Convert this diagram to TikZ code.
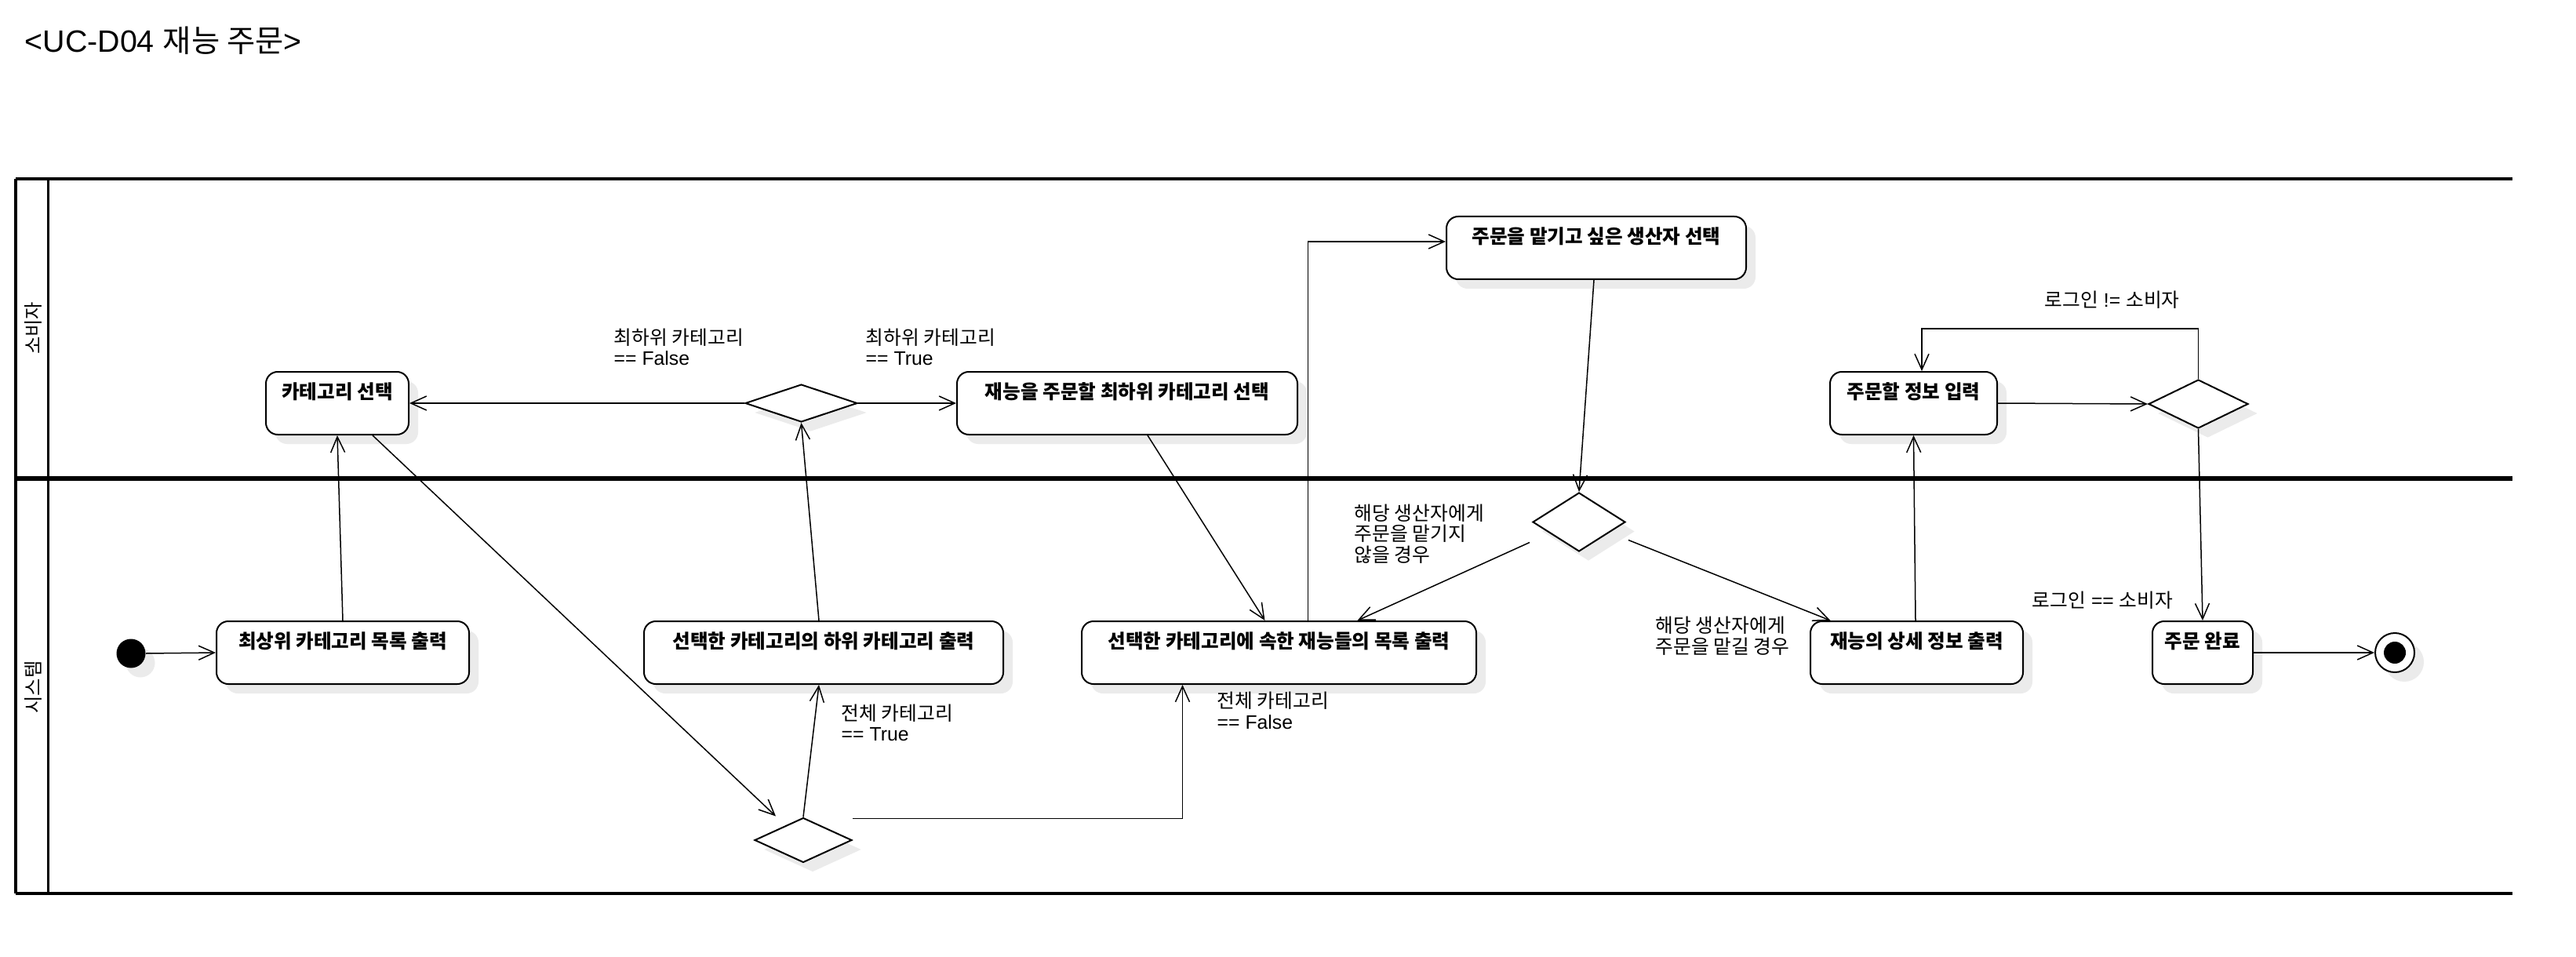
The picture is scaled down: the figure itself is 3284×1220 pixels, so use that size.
\documentclass[tikz,border=0pt]{standalone}
\usepackage{fontspec}
\setmainfont{Liberation Sans}
\newfontfamily\kr{Noto Sans CJK KR}
\usetikzlibrary{arrows.meta,shapes.geometric,shadows,calc}
\newcommand\K[1]{{\kr #1}}
\begin{document}
\begin{tikzpicture}[x=0.1mm,y=-0.1mm,
  shad/.style={drop shadow={shadow xshift=1.2mm,shadow yshift=-1.2mm,fill=black!8,opacity=1}},
  act/.style={draw,line width=0.2mm,rounded corners=1.5mm,fill=white,minimum height=8mm,inner sep=0,shad},
  acttxt/.style={font=\kr\bfseries\fontsize{7.0pt}{8.2pt}\selectfont,inner sep=0},
  dec/.style={diamond,draw,line width=0.2mm,fill=white,inner sep=0,shad},
  conn/.style={line width=0.15mm,-{Straight Barb[length=2mm,width=1.8mm]}},
  lbl/.style={font=\fontsize{7.05pt}{7.6pt}\selectfont,align=left,inner sep=0,anchor=west},
  lane/.style={line width=0.4mm},
  lanetxt/.style={font=\kr\fontsize{6.9pt}{8pt}\selectfont,rotate=90,inner sep=0}
]
\fill[white] (0,0) rectangle (3284,1220);
\useasboundingbox (0,0) rectangle (3284,1220);

% title
\node[anchor=base west,inner sep=0,font=\fontsize{11.2pt}{13pt}\selectfont] (title) at (31,67) {<UC-D04 \K{재능 주문}>};

% swimlanes
\draw[lane] (20,228) -- (3203,228);
\draw[line width=0.6mm] (20,610) -- (3203,610);
\draw[lane] (20,1138.5) -- (3203,1138.5);
\draw[lane] (20,228) -- (20,1138.5);
\draw[line width=0.33mm] (61.7,228) -- (61.7,1138.5);
\node[lanetxt] (laneA) at (42,418.5) {소비자};
\node[lanetxt] (laneB) at (42,876) {시스템};

% activities
\node[act,minimum width=18.2mm] (catsel) at (430,514) {};
\node[acttxt] (catselT) at ($(catsel.north)+(0,26)$) {카테고리 선택};
\node[act,minimum width=32.2mm] (top) at (437,832) {};
\node[acttxt] (topT) at ($(top.north)+(0,26)$) {최상위 카테고리 목록 출력};
\node[act,minimum width=45.8mm] (sub) at (1050,832) {};
\node[acttxt] (subT) at ($(sub.north)+(0,26)$) {선택한 카테고리의 하위 카테고리 출력};
\node[act,minimum width=43.4mm] (leaf) at (1437,514) {};
\node[acttxt] (leafT) at ($(leaf.north)+(0,26)$) {재능을 주문할 최하위 카테고리 선택};
\node[act,minimum width=50.3mm] (list) at (1630.5,832) {};
\node[acttxt] (listT) at ($(list.north)+(0,26)$) {선택한 카테고리에 속한 재능들의 목록 출력};
\node[act,minimum width=38.2mm] (sel) at (2035,316) {};
\node[acttxt] (selT) at ($(sel.north)+(0,26)$) {주문을 맡기고 싶은 생산자 선택};
\node[act,minimum width=21.3mm] (input) at (2439.5,514) {};
\node[acttxt] (inputT) at ($(input.north)+(0,26)$) {주문할 정보 입력};
\node[act,minimum width=27.1mm] (detail) at (2443.5,832) {};
\node[acttxt] (detailT) at ($(detail.north)+(0,26)$) {재능의 상세 정보 출력};
\node[act,minimum width=12.8mm] (done) at (2808,832) {};
\node[acttxt] (doneT) at ($(done.north)+(0,26)$) {주문 완료};

% decisions
\node[dec,minimum width=14.3mm,minimum height=4.8mm] (d1) at (1021.5,514) {};
\node[dec,minimum width=12.4mm,minimum height=5.7mm] (d2) at (1024,1071) {};
\node[dec,minimum width=11.8mm,minimum height=7.5mm] (d3) at (2013,665.5) {};
\node[dec,minimum width=12.7mm,minimum height=6.2mm] (d4) at (2802.5,515) {};

% initial / final
\node[circle,fill=black,minimum size=3.7mm,inner sep=0,shad] (init) at (167,833) {};
\node[circle,draw,line width=0.2mm,fill=white,minimum size=5mm,inner sep=0,shad] (fin) at (3053,832) {};
\node[circle,fill=black,minimum size=2.8mm,inner sep=0] (finIn) at (fin) {};

% connectors
\draw[conn] (init.east) -- (top.west);
\draw[conn] (top.north) -- (catsel.south);
\draw[conn] ($(catsel.south)+(45,0)$) -- ($(d2.north)+(-35,-1)$);
\draw[conn] (d2.north) -- ($(sub.south)+(-6,0)$);
\draw[conn] ($(d2.east |- d2.north)+(0,2)$) -| ($(list.south)+(-123,0)$);
\draw[conn] ($(sub.north)+(-6,0)$) -- (d1.south);
\draw[conn] (d1.west) -- (catsel.east);
\draw[conn] (d1.east) -- (leaf.west);
\draw[conn] ($(leaf.south)+(26,0)$) -- ($(list.north)+(-18,0)$);
\draw[conn] ($(list.north)+(37,0)$) |- ($(sel.west)+(0,-8)$);
\draw[conn] ($(sel.south)+(-3,0)$) -- (d3.north);
\draw[conn] ($(d3.west)+(-3,26)$) -- ($(list.north)+(100,0)$);
\draw[conn] ($(d3.east)+(3,23)$) -- ($(detail.north)+(-110,0)$);
\draw[conn] ($(detail.north)+(-1.5,0)$) -- (input.south);
\draw[conn] (input.east) -- (d4.west);
\draw[conn] (d4.north) -- ++(0,-64) -| ($(input.north)+(10.5,0)$);
\draw[conn] (d4.south) -- (done.north);
\draw[conn] (done.east) -- (fin.west);

% guard labels
\node[lbl] (g1) at (782,442.5) {\K{최하위 카테고리}\\== False};
\node[lbl] (g2) at (1103,442.5) {\K{최하위 카테고리}\\== True};
\node[lbl] (g3) at (1072,921.5) {\K{전체 카테고리}\\== True};
\node[lbl] (g4) at (1551,906) {\K{전체 카테고리}\\== False};
\node[lbl] (g5) at (1726,680.5) {\K{해당 생산자에게}\\\K{주문을 맡기지}\\\K{않을 경우}};
\node[lbl] (g6) at (2110,810.5) {\K{해당 생산자에게}\\\K{주문을 맡길 경우}};
\node[lbl] (g7) at (2606,382) {\K{로그인} != \K{소비자}};
\node[lbl] (g8) at (2590,765) {\K{로그인} == \K{소비자}};
\end{tikzpicture}
\end{document}
